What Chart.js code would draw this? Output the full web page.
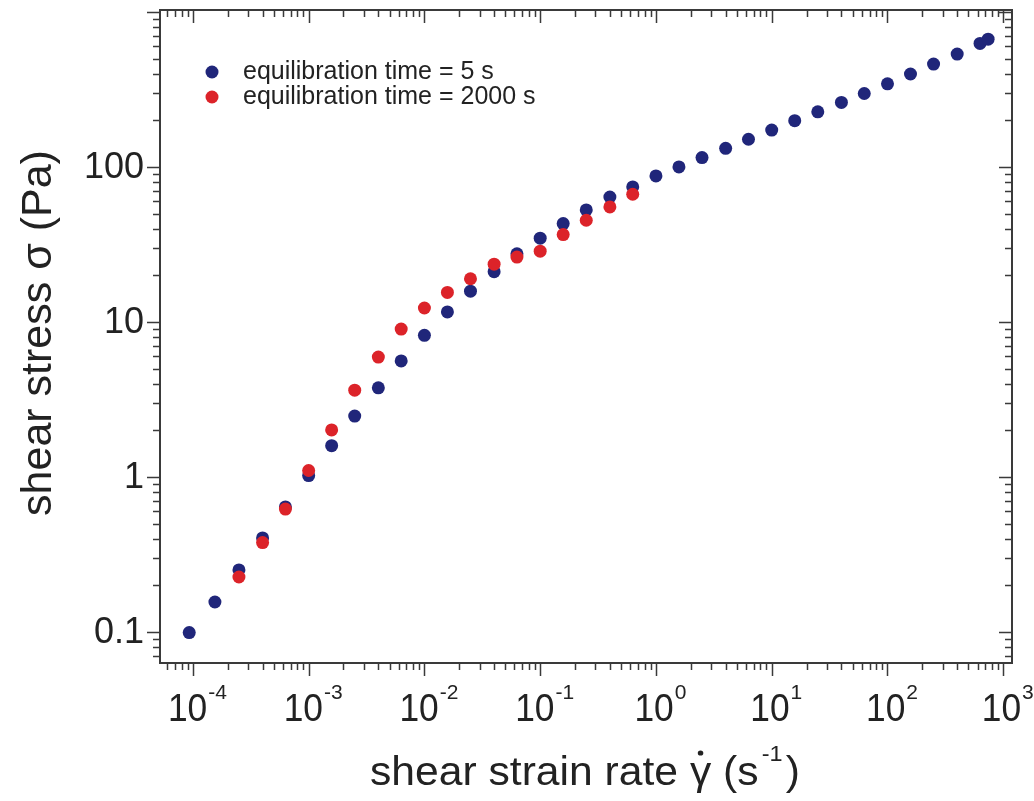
<!DOCTYPE html>
<html>
<head>
<meta charset="utf-8">
<script src="https://cdn.jsdelivr.net/npm/chart.js@4/dist/chart.umd.min.js"></script>
<style>
  html, body { margin: 0; padding: 0; background: #fff; }
  #wrap { width: 1034px; height: 801px; }
</style>
</head>
<body>
<div id="wrap"><canvas id="rheoChart" width="1034" height="801"></canvas></div>
<script>
// shear rate (1/s) and shear stress (Pa)
const rate5s = [9.3e-5, 1.55e-4, 2.5e-4, 4.0e-4, 6.3e-4, 1.0e-3, 1.58e-3, 2.5e-3, 4.0e-3, 6.3e-3,
    0.01, 0.0158, 0.025, 0.04, 0.063, 0.1, 0.158, 0.25, 0.4, 0.63,
    1, 1.58, 2.5, 4, 6.3, 10, 15.8, 25, 40, 63,
    100, 158, 250, 400, 630, 740];
const stress5s = [0.099, 0.156, 0.251, 0.404, 0.64, 1.02, 1.59, 2.47, 3.76, 5.6,
    8.2, 11.6, 15.8, 21.1, 27.5, 34.7, 43.1, 52.8, 64, 74.3,
    87.5, 100, 115, 132, 151, 173, 199, 227, 261, 298,
    344, 398, 461, 535, 627, 668];

const rate2000s = [2.5e-4, 4.0e-4, 6.3e-4, 1.0e-3, 1.58e-3, 2.5e-3, 4.0e-3, 6.3e-3, 0.01,
    0.0158, 0.025, 0.04, 0.063, 0.1, 0.158, 0.25, 0.4, 0.63];
const stress2000s = [0.226, 0.377, 0.62, 1.10, 2.01, 3.63, 5.93, 9.0, 12.3,
    15.5, 19.0, 23.6, 26.2, 28.6, 36.6, 45.3, 55.2, 66.7];

const seriesLabels = ['equilibration time = 5 s', 'equilibration time = 2000 s'];
const xTickExponents = [-4, -3, -2, -1, 0, 1, 2, 3];
const yTickValues = [0.1, 1, 10, 100];
const yTickLabels = ['0.1', '1', '10', '100'];

const BLUE = '#20267a';
const RED = '#dc2329';
const INK = '#222';

function toPoints(xs, ys) {
    return xs.map((x, i) => ({ x: x, y: ys[i] }));
}

// log minor/major tick positions inside a scale's range
function logTicks(scale) {
    const out = [];
    const d0 = Math.floor(Math.log10(scale.min));
    const d1 = Math.ceil(Math.log10(scale.max));
    for (let d = d0; d <= d1; d++) {
        for (let m = 1; m <= 9; m++) {
            const v = m * Math.pow(10, d);
            if (v >= scale.min && v <= scale.max) out.push({ v: v, major: m === 1 });
        }
    }
    return out;
}

const framePlugin = {
    id: 'frame',
    beforeDatasetsDraw(chart) {
        const { ctx, chartArea: a, scales } = chart;
        const xs = scales.x, ys = scales.y;
        ctx.save();
        ctx.strokeStyle = '#3a3a3a';
        ctx.lineWidth = 2;
        ctx.strokeRect(a.left, a.top, a.right - a.left, a.bottom - a.top);

        ctx.lineWidth = 1.5;
        ctx.beginPath();
        logTicks(xs).forEach(t => {
            const px = Math.round(xs.getPixelForValue(t.v)) + 0.5;
            const len = t.major ? 13 : 7;
            // bottom: outward, top: inward
            ctx.moveTo(px, a.bottom); ctx.lineTo(px, a.bottom + len);
            ctx.moveTo(px, a.top); ctx.lineTo(px, a.top + len);
        });
        logTicks(ys).forEach(t => {
            const py = Math.round(ys.getPixelForValue(t.v)) + 0.5;
            const len = t.major ? 13 : 7;
            // left: outward, right: inward
            ctx.moveTo(a.left, py); ctx.lineTo(a.left - len, py);
            ctx.moveTo(a.right, py); ctx.lineTo(a.right - len, py);
        });
        ctx.stroke();

        // y tick labels
        ctx.fillStyle = INK;
        ctx.font = '36px "Liberation Sans", Arial, sans-serif';
        ctx.textAlign = 'right';
        ctx.textBaseline = 'middle';
        yTickValues.forEach((v, i) => {
            ctx.fillText(yTickLabels[i], a.left - 16, ys.getPixelForValue(v) + 1);
        });

        // x tick labels, 10 with superscript exponent
        xTickExponents.forEach(e => {
            const px = xs.getPixelForValue(Math.pow(10, e));
            const base = '10', sup = String(e);
            ctx.font = '38px "Liberation Sans", Arial, sans-serif';
            const wb = ctx.measureText(base).width * 0.93;
            ctx.font = '21px "Liberation Sans", Arial, sans-serif';
            const ws = ctx.measureText(sup).width;
            const x0 = px + 4 - (wb + ws) / 2;
            ctx.textAlign = 'left';
            ctx.textBaseline = 'alphabetic';
            ctx.save();
            ctx.translate(x0, 721);
            ctx.scale(0.93, 1);
            ctx.font = '38px "Liberation Sans", Arial, sans-serif';
            ctx.fillText(base, 0, 0);
            ctx.restore();
            ctx.font = '21px "Liberation Sans", Arial, sans-serif';
            ctx.fillText(sup, x0 + wb + 1, 699);
        });

        // x axis title
        const titleMain = 'shear strain rate ';
        const gamma = '\u03B3';
        const titleTail = ' (s';
        ctx.font = '40px "Liberation Sans", Arial, sans-serif';
        const wMain = ctx.measureText(titleMain).width;
        const wG = ctx.measureText(gamma).width;
        const wTail = ctx.measureText(titleTail).width;
        const wClose = ctx.measureText(')').width;
        ctx.font = '22px "Liberation Sans", Arial, sans-serif';
        const wSup = ctx.measureText('-1').width;
        const total = wMain + wG + wTail + wSup + 6 + wClose;
        const sx = 430 / total;
        ctx.save();
        ctx.translate(370, 785);
        ctx.scale(sx, 1);
        ctx.font = '40px "Liberation Sans", Arial, sans-serif';
        ctx.fillText(titleMain, 0, 0);
        ctx.fillText(gamma, wMain, 0);
        // dot over gamma
        ctx.beginPath();
        ctx.arc(wMain + wG / 2, -32, 2.6, 0, Math.PI * 2);
        ctx.fill();
        ctx.fillText(titleTail, wMain + wG, 0);
        ctx.font = '22px "Liberation Sans", Arial, sans-serif';
        ctx.fillText('-1', wMain + wG + wTail + 3, -24);
        ctx.font = '40px "Liberation Sans", Arial, sans-serif';
        ctx.fillText(')', wMain + wG + wTail + wSup + 6, 0);
        ctx.restore();

        // y axis title
        ctx.save();
        ctx.translate(51, 333);
        ctx.rotate(-Math.PI / 2);
        ctx.font = '43px "Liberation Sans", Arial, sans-serif';
        ctx.textAlign = 'center';
        ctx.textBaseline = 'alphabetic';
        ctx.fillText('shear stress \u03C3 (Pa)', 0, 0);
        ctx.restore();

        // legend inside the plot
        ctx.font = '25px "Liberation Sans", Arial, sans-serif';
        ctx.textAlign = 'left';
        ctx.textBaseline = 'middle';
        chart.data.datasets.forEach((ds, i) => {
            const cy = 72 + i * 25;
            ctx.fillStyle = ds.backgroundColor;
            ctx.beginPath();
            ctx.arc(212, cy, 6.5, 0, Math.PI * 2);
            ctx.fill();
            ctx.fillStyle = INK;
            ctx.fillText(ds.label, 243, cy);
        });
        ctx.restore();
    }
};

const ctx = document.getElementById('rheoChart').getContext('2d');
new Chart(ctx, {
    type: 'scatter',
    data: {
        datasets: [{
            label: seriesLabels[0],
            data: toPoints(rate5s, stress5s),
            backgroundColor: BLUE,
            borderColor: BLUE,
            pointRadius: 6.5,
            borderWidth: 0,
            order: 1
        }, {
            label: seriesLabels[1],
            data: toPoints(rate2000s, stress2000s),
            backgroundColor: RED,
            borderColor: RED,
            pointRadius: 6.5,
            borderWidth: 0,
            order: 0
        }]
    },
    options: {
        responsive: false,
        animation: false,
        layout: { padding: { left: 0, top: 10, right: 22, bottom: 0 } },
        plugins: {
            legend: { display: false },
            tooltip: { enabled: false }
        },
        scales: {
            x: {
                type: 'logarithmic',
                min: 5.2e-5,
                max: 1.19e3,
                grid: { display: false },
                border: { display: false },
                ticks: { display: false },
                afterFit: function(scale) { scale.height = 138; }
            },
            y: {
                type: 'logarithmic',
                min: 0.063,
                max: 1030,
                grid: { display: false },
                border: { display: false },
                ticks: { display: false },
                afterFit: function(scale) { scale.width = 160; }
            }
        }
    },
    plugins: [framePlugin]
});
</script>
</body>
</html>
